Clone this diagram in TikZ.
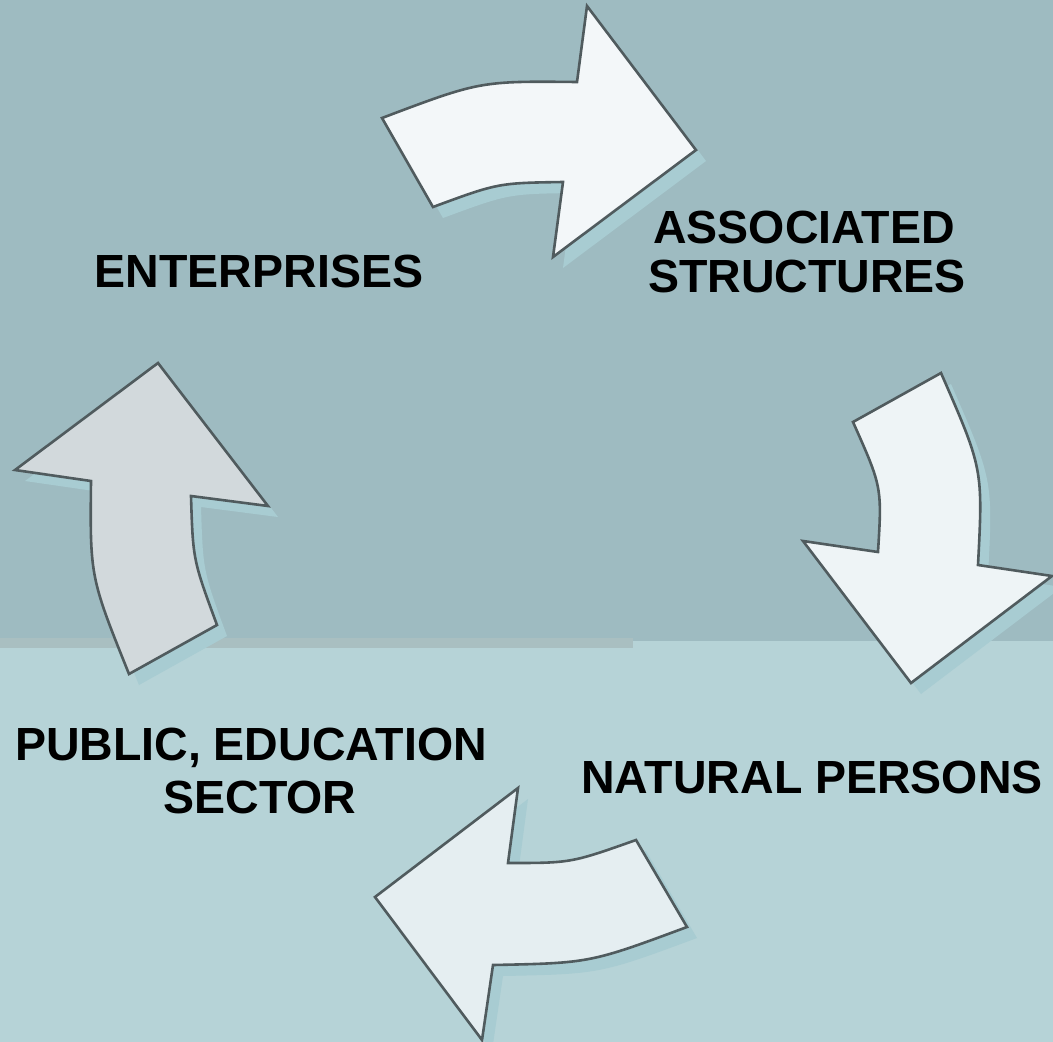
\documentclass[tikz,border=0pt]{standalone}
\usepackage{fontspec}
\setmainfont{Liberation Sans}
\definecolor{bgtop}{HTML}{9EBBC1}
\definecolor{bgbot}{HTML}{B6D3D7}
\definecolor{bgband}{HTML}{A9BFC1}
\definecolor{shadowcol}{HTML}{A8CCD2}
\definecolor{edgecol}{HTML}{505B5E}
\definecolor{fillA}{HTML}{F3F7F9}
\definecolor{fillB}{HTML}{EEF4F6}
\definecolor{fillC}{HTML}{E5EEF1}
\definecolor{fillD}{HTML}{D2D9DC}
\tikzset{
  label/.style={font=\fontsize{46.5}{53}\bfseries\selectfont, inner sep=0pt, anchor=base, text=black},
  arrowshape/.style={draw=edgecol, line width=2.6pt, line join=miter},
  arrowshadow/.style={fill=shadowcol, draw=none}
}
\def\arrTop{(382,118) -- (433,207) .. controls (498,183) .. (563,182) -- (553,257) -- (696,150) -- (587,6) -- (577,82) .. controls (480,81) .. (382,118) -- cycle}
\def\arrRight{(853,422) -- (941,373) .. controls (983,469) .. (978,565) -- (1052,576) -- (911,683) -- (803,541) -- (878,552) .. controls (882,487) .. (853,422) -- cycle}
\def\arrBottom{(636,840) -- (687,927) .. controls (590,963) .. (493,965) -- (482,1040) -- (375,897) -- (518,788) -- (508,863) .. controls (571,863) .. (636,840) -- cycle}
\def\arrLeft{(129,674) -- (217,625) .. controls (193,560) .. (191,496) -- (268,506) -- (158,363) -- (15,470) -- (91,481) .. controls (90,577) .. (129,674) -- cycle}
\begin{document}
\begin{tikzpicture}[x=1pt,y=-1pt]
\useasboundingbox (0,0) rectangle (1053,1042);
\clip (0,0) rectangle (1053,1042);
% background
\fill[bgtop] (0,0) rectangle (1053,641);
\fill[bgbot] (0,641) rectangle (1053,1042);
\fill[bgband] (0,638) rectangle (633,648);
% shadows
\begin{scope}[shift={(10,11)}]
  \path[arrowshadow] \arrTop;
  \path[arrowshadow] \arrRight;
  \path[arrowshadow] \arrBottom;
  \path[arrowshadow] \arrLeft;
\end{scope}
% arrows
\filldraw[arrowshape, fill=fillA] \arrTop;
\filldraw[arrowshape, fill=fillB] \arrRight;
\filldraw[arrowshape, fill=fillC] \arrBottom;
\filldraw[arrowshape, fill=fillD] \arrLeft;
% labels
\node[label] (ent) at (259,287) {ENTERPRISES};
\node[label] (assoc) at (804,243) {ASSOCIATED};
\node[label] (struct) at (807,292) {STRUCTURES};
\node[label] (nat) at (812,793) {NATURAL PERSONS};
\node[label] (pub) at (251,760) {PUBLIC, EDUCATION};
\node[label] (sect) at (260,813) {SECTOR};
\end{tikzpicture}
\end{document}
